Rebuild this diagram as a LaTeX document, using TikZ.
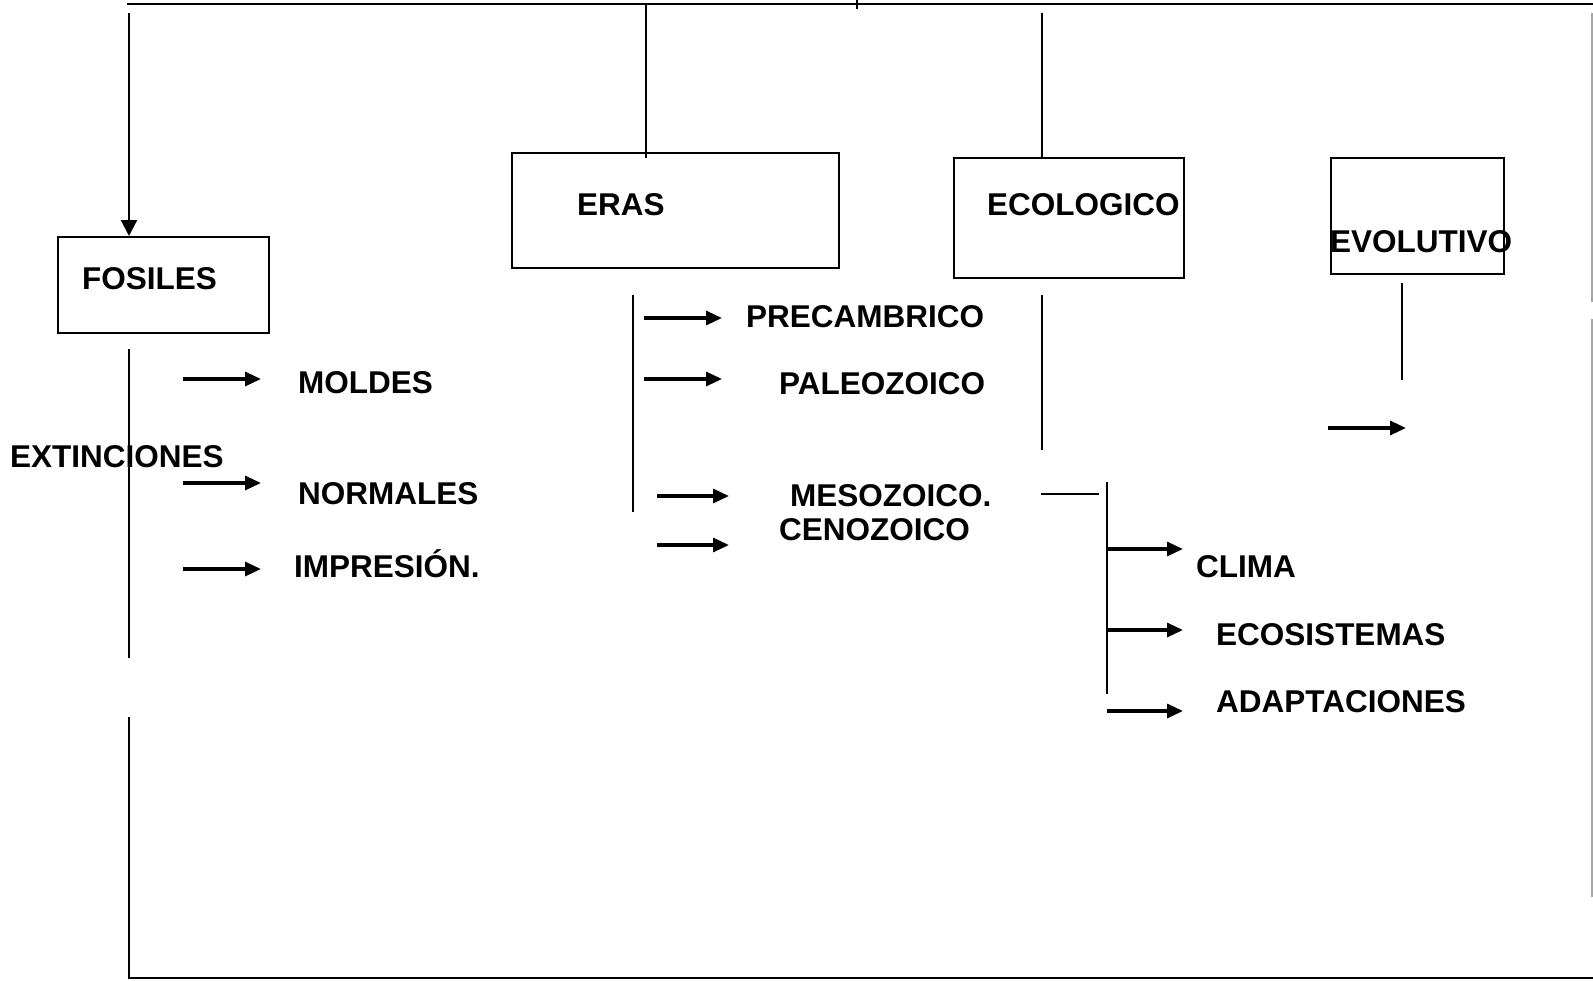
\documentclass[tikz,border=0pt]{standalone}
\usepackage{fontspec}
\setmainfont{Liberation Sans}
\usetikzlibrary{arrows.meta}
\begin{document}
\begin{tikzpicture}[x=1pt,y=-1pt,
  lbl/.style={anchor=base west, inner sep=0pt, font=\fontsize{31.5}{36}\selectfont\bfseries},
  boxnode/.style={draw, line width=1.8pt, inner sep=0pt, anchor=north west},
  thinline/.style={line width=1.6pt},
  frameline/.style={line width=2.8pt},
  arr/.style={line width=3.2pt, -{Triangle[length=16pt,width=14pt]}},
  downarr/.style={line width=2.2pt, -{Triangle[length=16pt,width=16pt]}},
  edgeline/.style={line width=1.2pt, draw=black!35}
]
\useasboundingbox (0,0) rectangle (1593,980);

% boxes
\node[boxnode, minimum width=211pt, minimum height=96pt] (fos) at (57,236) {};
\node[boxnode, minimum width=327pt, minimum height=115pt] (eras) at (511,152) {};
\node[boxnode, minimum width=230pt, minimum height=120pt] (eco) at (953,157) {};
\node[boxnode, minimum width=173pt, minimum height=116pt] (evo) at (1330,157) {};

% box labels
\node[lbl] (tfos) at (82,289) {FOSILES};
\node[lbl] (teras) at (577,215) {ERAS};
\node[lbl] (teco) at (987,215) {ECOLOGICO};
\node[lbl] (tevo) at (1330,252) {EVOLUTIVO};

% other labels
\node[lbl] (ext) at (10,467) {EXTINCIONES};
\node[lbl] (mol) at (298,393) {MOLDES};
\node[lbl] (nor) at (298,504) {NORMALES};
\node[lbl] (imp) at (294,577) {IMPRESIÓN.};
\node[lbl] (pre) at (746,327) {PRECAMBRICO};
\node[lbl] (pal) at (779,394) {PALEOZOICO};
\node[lbl] (mes) at (790,506) {MESOZOICO.};
\node[lbl] (cen) at (779,540) {CENOZOICO};
\node[lbl] (cli) at (1196,577) {CLIMA};
\node[lbl] (ecs) at (1216,645) {ECOSISTEMAS};
\node[lbl] (ada) at (1216,712) {ADAPTACIONES};

% top and bottom frame
\coordinate (tl) at (127,4);
\coordinate (tr) at (1593,4);
\coordinate (bl) at (128,978);
\coordinate (br) at (1593,978);
\draw[frameline] (tl) -- (tr);
\draw[frameline] (bl) -- (br);
\coordinate (tick) at (857,0);
\draw[thinline] (tick) -- ++(0,9);

% connectors from the top line to the boxes
\coordinate (f0) at (129,13);
\draw[downarr] (f0) -- (f0 |- fos.north);
\coordinate (e0) at (646,4);
\draw[thinline] (e0) -- (646,158);
\coordinate (c0) at (1042,13);
\draw[thinline] (c0) -- (c0 |- eco.north);

% right edge (grey)
\coordinate (r1) at (1592,13);
\coordinate (r2) at (1592,302);
\coordinate (r3) at (1592,319);
\coordinate (r4) at (1592,897);
\draw[edgeline] (r1) -- (r2);
\draw[edgeline] (r3) -- (r4);

% FOSILES branch
\coordinate (fv1) at (129,349);
\coordinate (fv2) at (129,658);
\coordinate (fv3) at (129,717);
\draw[thinline] (fv1) -- (fv2);
\draw[thinline] (fv3) -- (fv3 |- bl);
\coordinate (fa1) at (183,379);
\coordinate (fa2) at (183,483);
\coordinate (fa3) at (183,569);
\draw[arr] (fa1) -- ++(78,0);
\draw[arr] (fa2) -- ++(78,0);
\draw[arr] (fa3) -- ++(78,0);

% ERAS branch
\coordinate (ev1) at (633,295);
\coordinate (ev2) at (633,512);
\draw[thinline] (ev1) -- (ev2);
\coordinate (ea1) at (644,318);
\coordinate (ea2) at (644,379);
\coordinate (ea3) at (657,496);
\coordinate (ea4) at (657,545);
\draw[arr] (ea1) -- ++(78,0);
\draw[arr] (ea2) -- ++(78,0);
\draw[arr] (ea3) -- ++(72,0);
\draw[arr] (ea4) -- ++(72,0);

% ECOLOGICO branch
\coordinate (cv1) at (1042,295);
\coordinate (cv2) at (1042,450);
\draw[thinline] (cv1) -- (cv2);
\coordinate (ch1) at (1041,494);
\coordinate (ch2) at (1099,494);
\draw[thinline] (ch1) -- (ch2);
\coordinate (sv1) at (1107,482);
\coordinate (sv2) at (1107,694);
\draw[thinline] (sv1) -- (sv2);
\coordinate (ca1) at (1107,549);
\coordinate (ca2) at (1107,630);
\coordinate (ca3) at (1107,711);
\draw[arr] (ca1) -- ++(76,0);
\draw[arr] (ca2) -- ++(76,0);
\draw[arr] (ca3) -- ++(76,0);

% EVOLUTIVO branch
\coordinate (vv1) at (1402,283);
\coordinate (vv2) at (1402,380);
\draw[thinline] (vv1) -- (vv2);
\coordinate (va1) at (1328,428);
\draw[arr] (va1) -- ++(78,0);
\end{tikzpicture}
\end{document}
